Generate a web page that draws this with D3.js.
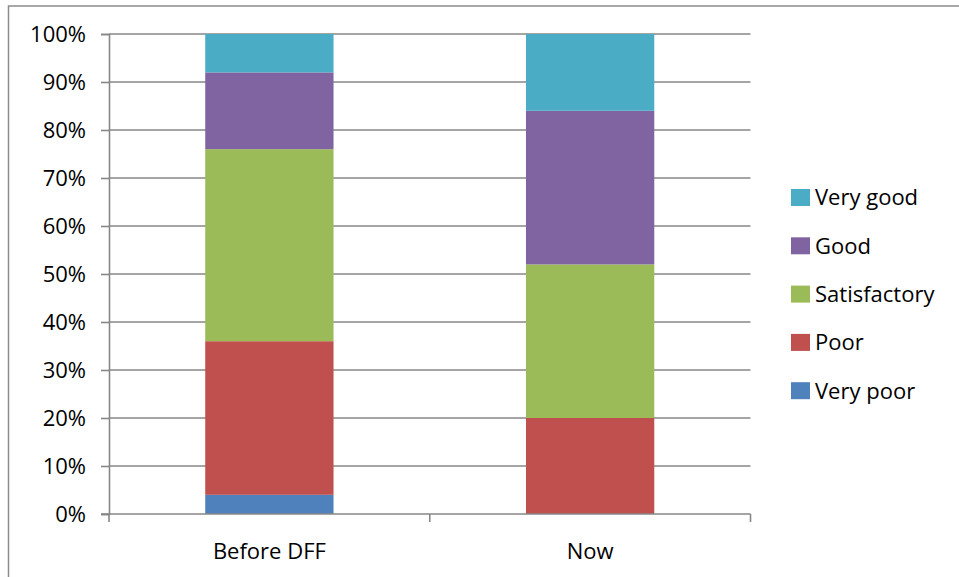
<!DOCTYPE html>
<html>
<head>
<meta charset="utf-8">
<script src="https://cdn.jsdelivr.net/npm/d3@7"></script>
<style>
  html, body { margin: 0; padding: 0; background: #fff; }
  svg { display: block; }
  text { font-family: "Open Sans", Lato, sans-serif; fill: #000; }
</style>
</head>
<body>
<svg id="chart" width="959" height="577"></svg>
<script>
// Survey ratings, share of respondents per period (percent)
const categories = ["Before DFF", "Now"];
const seriesNames = ["Very poor", "Poor", "Satisfactory", "Good", "Very good"];
const veryPoor     = [4, 0];
const poor         = [32, 20];
const satisfactory = [40, 32];
const good         = [16, 32];
const veryGood     = [8, 16];
const yTicks = [0, 10, 20, 30, 40, 50, 60, 70, 80, 90, 100];
const colors = ["#4f81bd", "#c0504d", "#9bbb59", "#8064a2", "#4bacc6"];

const seriesValues = [veryPoor, poor, satisfactory, good, veryGood];
const rows = categories.map((c, i) => {
  const r = { category: c };
  seriesNames.forEach((s, k) => { r[s] = seriesValues[k][i]; });
  return r;
});

const svg = d3.select("#chart");
const W = 959, H = 577;
const plot = { left: 109, right: 750.5, top: 34, bottom: 514 };
const gridColor = "#878787";
const fontSize = 22;
const fontFamily = "'Open Sans', Lato, sans-serif";

// outer chart border (only top and left edges fall inside the frame)
svg.append("rect")
  .attr("x", 8.5).attr("y", 6)
  .attr("width", W + 20).attr("height", H + 20)
  .attr("fill", "#fff").attr("stroke", "#8c8c8c").attr("stroke-width", 1.5);

const x = d3.scaleBand().domain(categories).range([plot.left, plot.right]).paddingInner(0).paddingOuter(0);
const y = d3.scaleLinear().domain([0, 100]).range([plot.bottom, plot.top]);
const barW = x.bandwidth() * 0.4;

// horizontal gridlines
svg.append("g").selectAll("line").data(yTicks.filter(t => t > 0)).join("line")
  .attr("x1", plot.left).attr("x2", plot.right)
  .attr("y1", d => y(d)).attr("y2", d => y(d))
  .attr("stroke", gridColor).attr("stroke-width", 1.6);

// stacked bars
const stack = d3.stack().keys(seriesNames)(rows);
svg.append("g").selectAll("g").data(stack).join("g")
  .attr("fill", (d, i) => colors[i])
  .selectAll("rect").data(d => d).join("rect")
  .attr("x", d => x(d.data.category) + (x.bandwidth() - barW) / 2)
  .attr("width", barW)
  .attr("y", d => y(d[1]))
  .attr("height", d => y(d[0]) - y(d[1]));

// y axis
const yAxis = d3.axisLeft(y).tickValues(yTicks).tickFormat(d => d + "%").tickSize(8).tickPadding(15);
const gy = svg.append("g").attr("transform", `translate(${plot.left},0)`).call(yAxis);
gy.select(".domain").attr("stroke", gridColor).attr("stroke-width", 1.6);
gy.selectAll(".tick line").attr("stroke", gridColor).attr("stroke-width", 1.6);
gy.selectAll(".tick text").attr("font-size", fontSize).attr("fill", "#000").attr("dy", "0.36em")
  .style("font-family", fontFamily);

// x axis with ticks at category boundaries
const gx = svg.append("g").attr("transform", `translate(0,${plot.bottom})`);
gx.append("line").attr("x1", plot.left - 8).attr("x2", plot.right)
  .attr("stroke", gridColor).attr("stroke-width", 1.6);
const bounds = [plot.left, ...categories.map(c => x(c) + x.bandwidth())];
gx.selectAll("line.tk").data(bounds).join("line").attr("class", "tk")
  .attr("x1", d => d).attr("x2", d => d).attr("y1", 0).attr("y2", 8)
  .attr("stroke", gridColor).attr("stroke-width", 1.6);
gx.selectAll("text").data(categories).join("text")
  .attr("x", d => x(d) + x.bandwidth() / 2).attr("y", 45)
  .attr("text-anchor", "middle").attr("font-size", fontSize).text(d => d);

// legend, top entry is the top of the stack
const legendItems = seriesNames.slice().reverse();
const lg = svg.append("g").attr("transform", "translate(791,189)");
const item = lg.selectAll("g").data(legendItems).join("g")
  .attr("transform", (d, i) => `translate(0,${i * 48.3})`);
item.append("rect").attr("width", 19).attr("height", 17)
  .attr("fill", d => colors[seriesNames.indexOf(d)]);
item.append("text").attr("x", 24).attr("y", 8.5).attr("dy", "0.36em")
  .attr("font-size", fontSize).text(d => d);
</script>
</body>
</html>
